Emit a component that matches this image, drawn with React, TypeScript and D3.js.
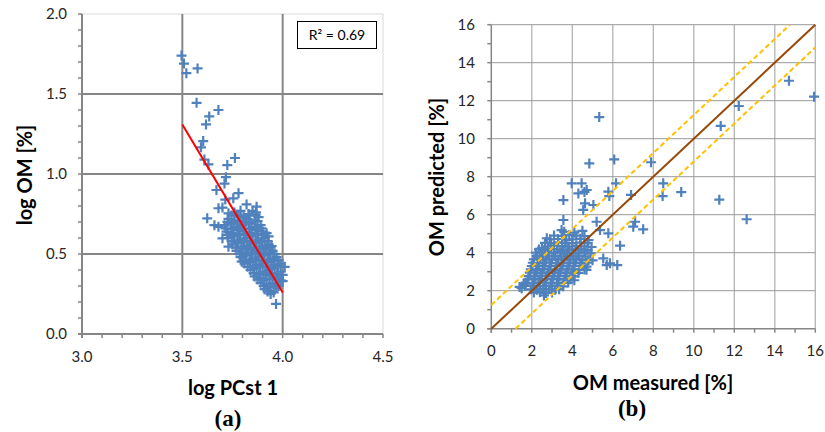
import React from "react";
import * as d3 from "d3";

// ---------- Panel (a): log PCst 1 vs log OM ----------
const aOutliers: [number, number][] = [
  [3.496, 1.74], [3.508, 1.69], [3.52, 1.63], [3.576, 1.66], [3.571, 1.445],
  [3.68, 1.4], [3.634, 1.36], [3.618, 1.31], [3.604, 1.206], [3.593, 1.167],
  [3.61, 1.09], [3.63, 1.06], [3.762, 1.1], [3.724, 1.056], [3.717, 0.98],
  [3.71, 0.94], [3.67, 0.9], [3.78, 0.88], [3.754, 0.848], [3.82, 0.81],
  [3.87, 0.796], [3.867, 0.76], [3.68, 0.786], [3.624, 0.723], [3.714, 0.84],
  [3.7, 0.79], [3.73, 0.754], [3.68, 0.67], [3.7, 0.598], [3.73, 0.546],
  [3.796, 0.452], [3.967, 0.188], [4.01, 0.42], [4.0, 0.37], [3.66, 0.68],
];
const aCluster: [number, number][] = [
  [3.76, 0.76], [3.79, 0.77], [3.83, 0.75], [3.85, 0.77],
  [3.745, 0.74], [3.775, 0.745], [3.805, 0.735], [3.835, 0.74], [3.865, 0.745],
  [3.73, 0.72], [3.76, 0.71], [3.79, 0.73], [3.82, 0.72], [3.86, 0.71], [3.88, 0.73],
  [3.725, 0.7], [3.755, 0.695], [3.785, 0.705], [3.815, 0.7], [3.845, 0.695], [3.875, 0.705],
  [3.71, 0.68], [3.74, 0.69], [3.77, 0.67], [3.8, 0.68], [3.83, 0.69], [3.86, 0.67], [3.89, 0.68],
  [3.715, 0.66], [3.745, 0.655], [3.775, 0.665], [3.805, 0.66], [3.835, 0.655], [3.865, 0.665], [3.895, 0.66],
  [3.72, 0.64], [3.75, 0.63], [3.78, 0.65], [3.81, 0.64], [3.84, 0.63], [3.87, 0.65], [3.9, 0.64], [3.92, 0.63],
  [3.725, 0.62], [3.755, 0.615], [3.785, 0.625], [3.815, 0.62], [3.845, 0.615], [3.875, 0.625], [3.905, 0.62],
  [3.73, 0.6], [3.76, 0.61], [3.79, 0.59], [3.82, 0.6], [3.85, 0.61], [3.88, 0.59], [3.91, 0.6], [3.93, 0.61],
  [3.745, 0.58], [3.775, 0.575], [3.805, 0.585], [3.835, 0.58], [3.865, 0.575], [3.895, 0.585], [3.925, 0.58],
  [3.75, 0.56], [3.78, 0.57], [3.81, 0.55], [3.84, 0.56], [3.87, 0.57], [3.9, 0.55], [3.93, 0.56], [3.945, 0.55],
  [3.765, 0.54], [3.795, 0.535], [3.825, 0.545], [3.855, 0.54], [3.885, 0.535], [3.915, 0.545], [3.94, 0.54],
  [3.77, 0.52], [3.8, 0.51], [3.83, 0.53], [3.86, 0.52], [3.89, 0.51], [3.92, 0.53], [3.95, 0.52],
  [3.785, 0.5], [3.815, 0.495], [3.845, 0.505], [3.875, 0.5], [3.905, 0.495], [3.935, 0.505], [3.96, 0.5],
  [3.79, 0.48], [3.82, 0.49], [3.85, 0.47], [3.88, 0.48], [3.91, 0.49], [3.94, 0.47], [3.97, 0.48],
  [3.805, 0.46], [3.835, 0.455], [3.865, 0.465], [3.895, 0.46], [3.925, 0.455], [3.955, 0.465], [3.98, 0.46],
  [3.81, 0.44], [3.84, 0.45], [3.87, 0.43], [3.9, 0.44], [3.93, 0.45], [3.96, 0.43], [3.99, 0.44],
  [3.825, 0.42], [3.855, 0.415], [3.885, 0.425], [3.915, 0.42], [3.945, 0.415], [3.975, 0.425],
  [3.84, 0.4], [3.87, 0.41], [3.9, 0.39], [3.93, 0.4], [3.96, 0.41], [3.99, 0.39],
  [3.855, 0.38], [3.885, 0.375], [3.915, 0.385], [3.945, 0.38], [3.975, 0.375],
  [3.86, 0.36], [3.89, 0.35], [3.92, 0.37], [3.95, 0.36], [3.98, 0.35], [4.0, 0.33],
  [3.875, 0.34], [3.905, 0.335], [3.935, 0.345], [3.965, 0.34], [3.99, 0.335],
  [3.89, 0.32], [3.92, 0.31], [3.95, 0.32], [3.98, 0.3],
  [3.905, 0.3], [3.935, 0.295], [3.965, 0.305],
  [3.91, 0.28], [3.94, 0.27], [3.97, 0.29], [3.925, 0.265], [3.955, 0.26], [3.94, 0.25],
];
const aFit: [number, number][] = [[3.5, 1.31], [4.0, 0.26]];
const aXTicks = [3.0, 3.5, 4.0, 4.5];
const aYTicks = [0.0, 0.5, 1.0, 1.5, 2.0];
const aR2 = "R² = 0.69";

// ---------- Panel (b): OM measured vs OM predicted ----------
const bOutliers: [number, number][] = [
  [5.33, 11.14], [6.07, 8.91], [7.89, 8.76], [4.84, 8.7], [6.16, 7.65], [5.78, 7.21],
  [5.83, 6.98], [6.9, 7.04], [8.49, 7.65], [8.46, 6.98], [9.38, 7.19], [11.26, 6.79],
  [12.61, 5.76], [11.33, 10.67], [12.22, 11.72], [14.7, 13.05], [15.94, 12.21],
  [7.1, 5.63], [7.01, 5.37], [7.5, 5.23], [3.56, 6.77], [3.97, 7.65], [4.46, 7.65],
  [4.3, 7.12], [4.71, 7.3], [4.63, 6.6], [5.04, 6.51], [4.54, 6.25], [6.36, 4.37],
  [5.86, 3.44], [6.22, 3.35], [5.53, 3.7], [5.7, 3.35], [5.78, 5.02], [5.37, 5.19],
  [5.2, 5.63], [1.5, 2.13], [2.74, 4.76], [3.56, 5.72], [3.47, 5.19], [4.6, 7.2],
];
const bCluster: [number, number][] = [
  [3.6, 5.1], [4.1, 5.05], [4.5, 5.15],
  [3.1, 4.9], [3.5, 4.88], [3.85, 4.92], [4.2, 4.9], [4.6, 4.87],
  [2.9, 4.7], [3.3, 4.72], [3.7, 4.68], [4.0, 4.7], [4.4, 4.73], [4.8, 4.66],
  [2.65, 4.52], [2.95, 4.5], [3.3, 4.54], [3.65, 4.52], [4.0, 4.5], [4.4, 4.53], [4.75, 4.51],
  [2.8, 4.33], [3.1, 4.37], [3.5, 4.35], [3.8, 4.32], [4.2, 4.36], [4.6, 4.34], [4.95, 4.3],
  [2.35, 4.17], [2.65, 4.15], [2.95, 4.19], [3.25, 4.17], [3.55, 4.15], [3.85, 4.18], [4.15, 4.16], [4.45, 4.18], [4.75, 4.15],
  [2.2, 4.0], [2.5, 4.02], [2.8, 3.98], [3.1, 4.0], [3.4, 4.03], [3.7, 3.97], [4.0, 4.01], [4.3, 3.99], [4.6, 4.02], [4.9, 3.96],
  [2.25, 3.82], [2.55, 3.8], [2.85, 3.84], [3.15, 3.82], [3.45, 3.8], [3.75, 3.83], [4.05, 3.81], [4.35, 3.83], [4.65, 3.8],
  [2.1, 3.65], [2.4, 3.67], [2.7, 3.63], [3.0, 3.66], [3.3, 3.64], [3.6, 3.67], [3.9, 3.63], [4.2, 3.66], [4.5, 3.64], [4.8, 3.62],
  [2.05, 3.47], [2.35, 3.45], [2.65, 3.49], [2.95, 3.47], [3.25, 3.45], [3.55, 3.48], [3.85, 3.46], [4.15, 3.48], [4.45, 3.45], [4.75, 3.47],
  [2.0, 3.3], [2.3, 3.32], [2.6, 3.28], [2.9, 3.31], [3.2, 3.29], [3.5, 3.32], [3.8, 3.28], [4.1, 3.3], [4.4, 3.31], [4.7, 3.27],
  [1.95, 3.12], [2.25, 3.1], [2.55, 3.14], [2.85, 3.12], [3.15, 3.1], [3.45, 3.13], [3.75, 3.11], [4.05, 3.13], [4.35, 3.1], [4.6, 3.12],
  [1.9, 2.95], [2.2, 2.97], [2.5, 2.93], [2.8, 2.96], [3.1, 2.94], [3.4, 2.97], [3.7, 2.93], [4.0, 2.96], [4.3, 2.94],
  [1.85, 2.77], [2.15, 2.75], [2.45, 2.79], [2.75, 2.77], [3.05, 2.75], [3.35, 2.78], [3.65, 2.76], [3.95, 2.78],
  [1.8, 2.6], [2.1, 2.62], [2.4, 2.58], [2.7, 2.61], [3.0, 2.59], [3.3, 2.62], [3.6, 2.58], [3.9, 2.6], [4.1, 2.55],
  [1.7, 2.42], [2.05, 2.4], [2.35, 2.44], [2.65, 2.42], [2.95, 2.4], [3.25, 2.43], [3.55, 2.41], [3.8, 2.43],
  [1.65, 2.25], [2.1, 2.27], [2.4, 2.23], [2.7, 2.26], [3.0, 2.24], [3.3, 2.27], [3.55, 2.23],
  [1.95, 2.07], [2.25, 2.05], [2.55, 2.09], [2.85, 2.07], [3.15, 2.05], [3.35, 2.08],
  [2.1, 1.9], [2.4, 1.92], [2.7, 1.88], [3.0, 1.91], [2.6, 1.75],
  [4.7, 3.1], [2.5, 4.25], [4.1, 2.75], [5.0, 3.6], [1.4, 2.2], [1.6, 2.35],
];
const bIdentity: [number, number][] = [[0, 0], [16, 16]];
const bUpper: [number, number][] = [[0, 1.25], [14.75, 16]];
const bLower: [number, number][] = [[1.2, 0], [16, 14.8]];
const bTicks = [0, 2, 4, 6, 8, 10, 12, 14, 16];

const BLUE = "#4F81BD";
const AXIS = "#868686";
const FONT = "Lato, 'Open Sans', sans-serif";

function Plus({ x, y }: { x: number; y: number }) {
  return (
    <path d={`M${x - 5},${y}H${x + 5}M${x},${y - 5}V${y + 5}`} stroke={BLUE} strokeWidth={2.2} fill="none" />
  );
}

export default function App() {
  const ax = d3.scaleLinear().domain([3, 4.5]).range([82, 383]);
  const ay = d3.scaleLinear().domain([0, 2]).range([334, 14]);
  const bx = d3.scaleLinear().domain([0, 16]).range([491.3, 815.3]);
  const by = d3.scaleLinear().domain([0, 16]).range([328.7, 24.7]);
  const line = (sx: any, sy: any) => d3.line<[number, number]>().x((d) => sx(d[0])).y((d) => sy(d[1]));

  const aMinorX = d3.range(30, 46).map((v) => v / 10);
  const aMinorY = d3.range(0, 21).map((v) => v / 10);
  const bMinor = d3.range(0, 17);

  return (
    <svg width={825} height={432} style={{ position: "absolute", left: 0, top: 0 }}>
      <rect width={825} height={432} fill="#fff" />
      {/* ===== Panel a ===== */}
      <g>
        <line x1={ax(3)} x2={ax(4.5)} y1={ay(2)} y2={ay(2)} stroke="#d9d9d9" strokeWidth={1} />
        <line x1={ax(4.5)} x2={ax(4.5)} y1={ay(2)} y2={ay(0)} stroke="#d9d9d9" strokeWidth={1} />
        {[3.5, 4.0].map((v) => (
          <line key={"agx" + v} x1={ax(v)} x2={ax(v)} y1={ay(2)} y2={ay(0)} stroke={AXIS} strokeWidth={2} />
        ))}
        {[0.5, 1.0, 1.5].map((v) => (
          <line key={"agy" + v} x1={ax(3)} x2={ax(4.5)} y1={ay(v)} y2={ay(v)} stroke={AXIS} strokeWidth={2} />
        ))}
        {aMinorX.map((v) => (
          <line key={"amx" + v} x1={ax(v)} x2={ax(v)} y1={ay(0)} y2={ay(0) + 4} stroke={AXIS} strokeWidth={1.5} />
        ))}
        {aMinorY.map((v) => (
          <line key={"amy" + v} x1={ax(3) - 4} x2={ax(3)} y1={ay(v)} y2={ay(v)} stroke={AXIS} strokeWidth={1.5} />
        ))}
        <line x1={ax(3)} x2={ax(3)} y1={ay(2)} y2={ay(0) + 4} stroke={AXIS} strokeWidth={2} />
        <line x1={ax(3) - 4} x2={ax(4.5)} y1={ay(0)} y2={ay(0)} stroke={AXIS} strokeWidth={2} />
        {aYTicks.map((v) => (
          <text key={"aty" + v} x={67} y={ay(v)} dy="0.35em" textAnchor="end" fontFamily={FONT} fontSize={15} fill="#262626">
            {v.toFixed(1)}
          </text>
        ))}
        {aXTicks.map((v) => (
          <text key={"atx" + v} x={ax(v)} y={357} dy="0.35em" textAnchor="middle" fontFamily={FONT} fontSize={15} fill="#262626">
            {v.toFixed(1)}
          </text>
        ))}
        {[...aCluster, ...aOutliers].map((d, i) => (
          <Plus key={"ap" + i} x={ax(d[0])} y={ay(d[1])} />
        ))}
        <path d={line(ax, ay)(aFit) || ""} stroke="#FF0000" strokeWidth={2} fill="none" />
        <rect x={297.5} y={21.5} width={79} height={27} fill="#fff" stroke="#000" strokeWidth={1} />
        <text x={337} y={35} dy="0.35em" textAnchor="middle" fontFamily={FONT} fontSize={14} fill="#000">
          {aR2}
        </text>
        <text transform={`translate(25,175) rotate(-90)`} dy="0.35em" textAnchor="middle" fontFamily={FONT} fontWeight="bold" fontSize={20} fill="#000">
          log OM [%]
        </text>
        <text x={233} y={388} dy="0.35em" textAnchor="middle" fontFamily={FONT} fontWeight="bold" fontSize={20} fill="#000">
          log PCst 1
        </text>
        <text x={228} y={418} dy="0.35em" textAnchor="middle" fontFamily="'Liberation Serif', serif" fontWeight="bold" fontSize={23} fill="#000">
          (a)
        </text>
      </g>

      {/* ===== Panel b ===== */}
      <g>
        {bTicks.filter((v) => v > 0).map((v) => (
          <line key={"bgx" + v} x1={bx(v)} x2={bx(v)} y1={by(16)} y2={by(0)} stroke="#b4b4b4" strokeWidth={1.3} />
        ))}
        {bTicks.filter((v) => v > 0).map((v) => (
          <line key={"bgy" + v} x1={bx(0)} x2={bx(16)} y1={by(v)} y2={by(v)} stroke="#999" strokeWidth={1} />
        ))}
        {bMinor.map((v) => (
          <line key={"bmx" + v} x1={bx(v)} x2={bx(v)} y1={by(0)} y2={by(0) + 4} stroke={AXIS} strokeWidth={1.5} />
        ))}
        {bMinor.map((v) => (
          <line key={"bmy" + v} x1={bx(0) - 4} x2={bx(0)} y1={by(v)} y2={by(v)} stroke={AXIS} strokeWidth={1.5} />
        ))}
        <line x1={bx(0)} x2={bx(0)} y1={by(16)} y2={by(0) + 4} stroke={AXIS} strokeWidth={1.5} />
        <line x1={bx(0) - 4} x2={bx(16)} y1={by(0)} y2={by(0)} stroke={AXIS} strokeWidth={1.5} />
        {bTicks.map((v) => (
          <text key={"bty" + v} x={475} y={by(v)} dy="0.35em" textAnchor="end" fontFamily={FONT} fontSize={15} fill="#262626">
            {v}
          </text>
        ))}
        {bTicks.map((v) => (
          <text key={"btx" + v} x={bx(v)} y={351} dy="0.35em" textAnchor="middle" fontFamily={FONT} fontSize={15} fill="#262626">
            {v}
          </text>
        ))}
        {[...bCluster, ...bOutliers].map((d, i) => (
          <Plus key={"bp" + i} x={bx(d[0])} y={by(d[1])} />
        ))}
        <path d={line(bx, by)(bUpper) || ""} stroke="#FFC000" strokeWidth={2} strokeDasharray="5,3" fill="none" />
        <path d={line(bx, by)(bLower) || ""} stroke="#FFC000" strokeWidth={2} strokeDasharray="5,3" fill="none" />
        <path d={line(bx, by)(bIdentity) || ""} stroke="#984807" strokeWidth={2} fill="none" />
        <text transform={`translate(437,177) rotate(-90)`} dy="0.35em" textAnchor="middle" fontFamily={FONT} fontWeight="bold" fontSize={20} fill="#000">
          OM predicted [%]
        </text>
        <text x={653} y={383} dy="0.35em" textAnchor="middle" fontFamily={FONT} fontWeight="bold" fontSize={20} fill="#000">
          OM measured [%]
        </text>
        <text x={632} y={408} dy="0.35em" textAnchor="middle" fontFamily="'Liberation Serif', serif" fontWeight="bold" fontSize={23} fill="#000">
          (b)
        </text>
      </g>
    </svg>
  );
}
